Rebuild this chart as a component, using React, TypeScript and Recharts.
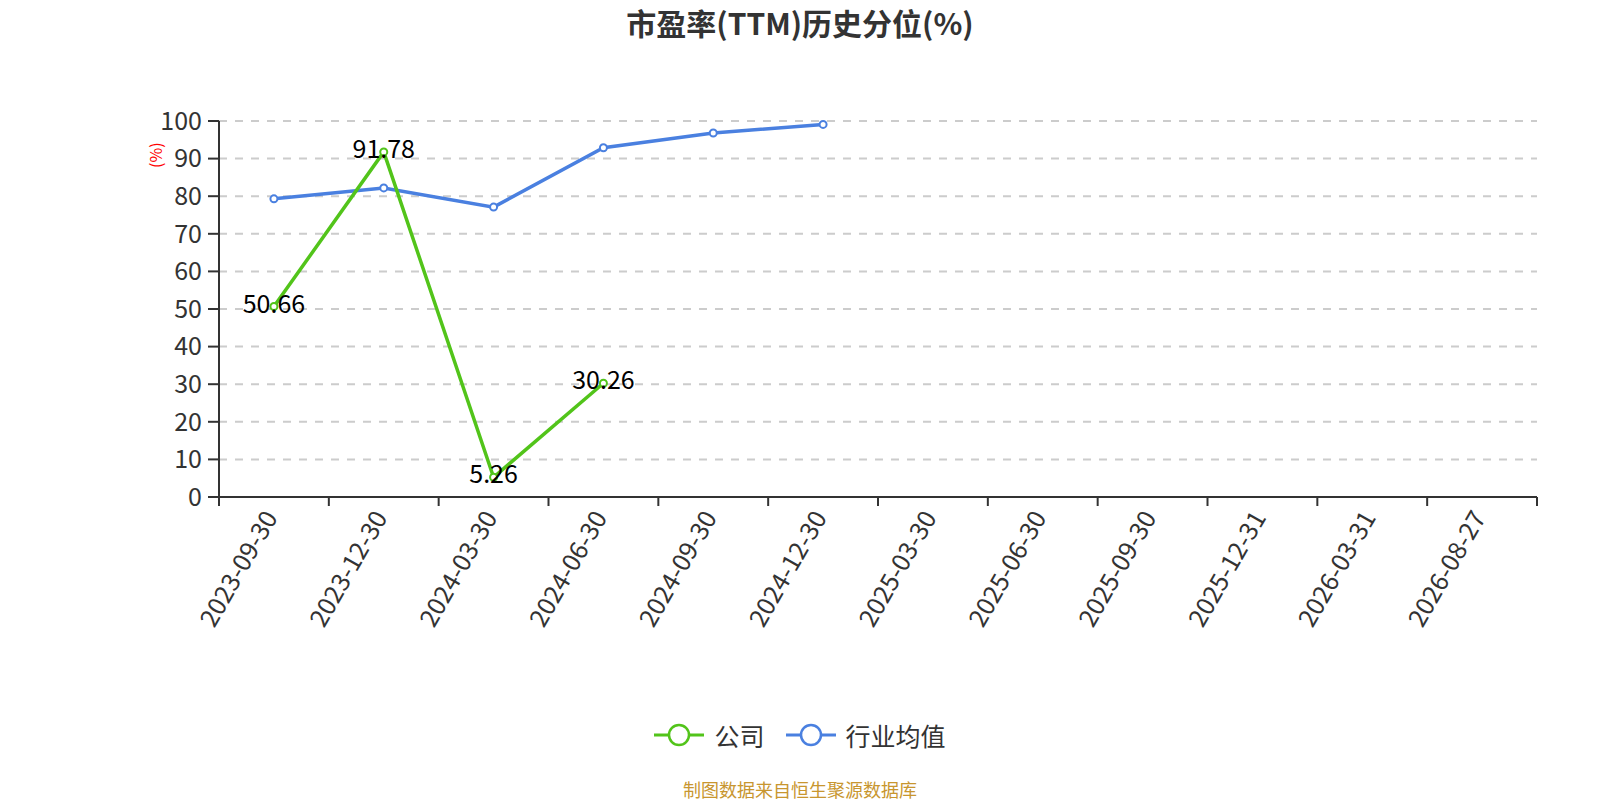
import { CartesianGrid, LabelList, Line, LineChart, XAxis, YAxis } from "recharts";

const categories = [
  "2023-09-30",
  "2023-12-30",
  "2024-03-30",
  "2024-06-30",
  "2024-09-30",
  "2024-12-30",
  "2025-03-30",
  "2025-06-30",
  "2025-09-30",
  "2025-12-31",
  "2026-03-31",
  "2026-08-27",
];

const companyPct = [50.66, 91.78, 5.26, 30.26, null, null, null, null, null, null, null, null];
const industryPct = [79.3, 82.2, 77.1, 92.9, 96.8, 99.1, null, null, null, null, null, null];
const yTicks = [0, 10, 20, 30, 40, 50, 60, 70, 80, 90, 100];

const seriesNames = { company: "公司", industry: "行业均值" };
const GREEN = "#52C41A";
const BLUE = "#4A80E0";
const FONT = "'Noto Sans CJK SC', 'Noto Sans', sans-serif";

const W = 1600;
const H = 800;
const LEFT = 219;
const RIGHT = 1537;
const TOP = 121;
const BOTTOM = 497;
const BAND = (RIGHT - LEFT) / categories.length;

const data = categories.map((date, i) => ({
  date,
  company: companyPct[i],
  industry: industryPct[i],
}));

// echarts-style category axis: ticks on band edges, labels on band centres
// eslint-disable-next-line @typescript-eslint/no-explicit-any
function DateTick(props: any) {
  const { payload } = props;
  const cx = payload.coordinate;
  const last = payload.index === categories.length - 1;
  const lx = cx - 5;
  const ly = BOTTOM + 15;
  return (
    <g>
      <line x1={cx - BAND / 2} x2={cx - BAND / 2} y1={BOTTOM} y2={BOTTOM + 9} stroke="#333" strokeWidth={2} />
      {last && (
        <line x1={cx + BAND / 2} x2={cx + BAND / 2} y1={BOTTOM} y2={BOTTOM + 9} stroke="#333" strokeWidth={2} />
      )}
      <text
        x={lx}
        y={ly}
        textAnchor="end"
        dominantBaseline="central"
        transform={`rotate(-60 ${lx} ${ly})`}
        fill="#333"
        fontSize={25}
        fontFamily={FONT}
      >
        {payload.value}
      </text>
    </g>
  );
}

// eslint-disable-next-line @typescript-eslint/no-explicit-any
function PointLabel(props: any) {
  const { x, y, value } = props;
  if (value == null) return null;
  return (
    <text
      x={x}
      y={y - 5}
      textAnchor="middle"
      dominantBaseline="central"
      fill="#000"
      fontSize={25}
      fontFamily={FONT}
    >
      {value.toFixed(2)}
    </text>
  );
}

function LegendItem({ color, label }: { color: string; label: string }) {
  return (
    <div style={{ display: "flex", alignItems: "center" }}>
      <svg width={50} height={24}>
        <line x1={0} x2={50} y1={12} y2={12} stroke={color} strokeWidth={3} />
        <circle cx={25} cy={12} r={10} fill="#fff" stroke={color} strokeWidth={2.5} />
      </svg>
      <span style={{ marginLeft: 10, fontSize: 25, color: "#333" }}>{label}</span>
    </div>
  );
}

export default function App() {
  return (
    <div
      style={{
        position: "absolute",
        left: 0,
        top: 0,
        width: W,
        height: H,
        background: "#fff",
        fontFamily: FONT,
      }}
    >
      <div
        style={{
          position: "absolute",
          top: 0,
          left: 0,
          width: W,
          textAlign: "center",
          fontSize: 30,
          fontWeight: "bold",
          color: "#333",
        }}
      >
        市盈率(TTM)历史分位(%)
      </div>

      <LineChart
        width={W}
        height={H}
        data={data}
        margin={{ top: TOP, right: W - RIGHT, bottom: 0, left: 0 }}
      >
        <CartesianGrid
          horizontal
          vertical={false}
          stroke="#ccc"
          strokeWidth={2}
          strokeDasharray="8 8"
        />
        <XAxis
          dataKey="date"
          height={H - BOTTOM}
          interval={0}
          padding={{ left: BAND / 2, right: BAND / 2 }}
          axisLine={{ stroke: "#333", strokeWidth: 2 }}
          tickLine={false}
          tick={<DateTick />}
        />
        <YAxis
          width={LEFT}
          domain={[0, 100]}
          ticks={yTicks}
          interval={0}
          axisLine={{ stroke: "#333", strokeWidth: 2 }}
          tickLine={{ stroke: "#333", strokeWidth: 2 }}
          tickSize={11}
          tickMargin={6}
          tick={{ fill: "#333", fontSize: 25, fontFamily: FONT }}
          label={{
            value: "(%)",
            angle: -90,
            position: "insideLeft",
            dx: 151,
            dy: -141,
            fill: "red",
            fontSize: 16,
            fontFamily: FONT,
          }}
        />
        <Line
          dataKey="industry"
          name={seriesNames.industry}
          stroke={BLUE}
          strokeWidth={3.5}
          dot={{ r: 3.5, fill: "#fff", stroke: BLUE, strokeWidth: 2 }}
          activeDot={false}
          isAnimationActive={false}
        />
        <Line
          dataKey="company"
          name={seriesNames.company}
          stroke={GREEN}
          strokeWidth={3.5}
          dot={{ r: 3.5, fill: "#fff", stroke: GREEN, strokeWidth: 2 }}
          activeDot={false}
          isAnimationActive={false}
        >
          <LabelList dataKey="company" content={<PointLabel />} />
        </Line>
      </LineChart>

      <div
        style={{
          position: "absolute",
          top: 717,
          left: 0,
          width: W,
          display: "flex",
          justifyContent: "center",
          gap: 21,
        }}
      >
        <LegendItem color={GREEN} label={seriesNames.company} />
        <LegendItem color={BLUE} label={seriesNames.industry} />
      </div>

      <div
        style={{
          position: "absolute",
          top: 776,
          left: 0,
          width: W,
          textAlign: "center",
          fontSize: 18,
          color: "#C8962F",
        }}
      >
        制图数据来自恒生聚源数据库
      </div>
    </div>
  );
}
